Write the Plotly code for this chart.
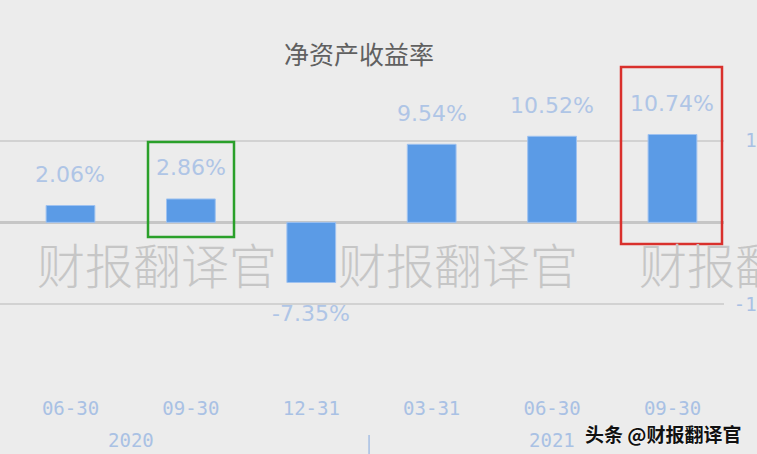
import plotly.graph_objects as go

categories = ["06-30", "09-30", "12-31", "03-31", "06-30", "09-30"]
roe_values = [2.06, 2.86, -7.35, 9.54, 10.52, 10.74]
value_labels = ["2.06%", "2.86%", "-7.35%", "9.54%", "10.52%", "10.74%"]
year_labels = ["2020", "2021"]
year_positions = [0.5, 4.0]
y_tick_values = [-20, -10, 0, 10]
y_tick_text = ["", "-10", "", "\u200710"]
watermark_text = "财报翻译官"
watermark_x = [35, 336, 637]

BG = "#ececec"
LABEL_BLUE = "#a9c1e4"
x_pos = list(range(len(categories)))

fig = go.Figure()
fig.add_trace(go.Bar(
    x=x_pos, y=roe_values, width=0.405,
    marker=dict(color="#5b9be6", line=dict(color="#9fc2f0", width=1)),
    hoverinfo="skip",
))

annotations = []
for xi, v, t in zip(x_pos, roe_values, value_labels):
    annotations.append(dict(
        x=xi, y=v, xref="x", yref="y", text=t, showarrow=False,
        yanchor="middle", yshift=31 if v >= 0 else -31,
        font=dict(family="DejaVu Sans", size=22, color="#afc5e6"),
    ))

for yl, yp in zip(year_labels, year_positions):
    annotations.append(dict(
        x=yp, y=-0.1667, xref="x", yref="paper", text=yl, showarrow=False,
        yanchor="middle", font=dict(family="DejaVu Sans Mono", size=19, color=LABEL_BLUE),
    ))

PLOT_W = 724.0
for wx in watermark_x:
    annotations.append(dict(
        x=wx / PLOT_W, y=0.3796, xref="paper", yref="paper", text=watermark_text,
        showarrow=False, xanchor="left", yanchor="middle",
        font=dict(family="Noto Sans CJK SC", size=48, color="#c6c6c6", weight=300),
    ))

annotations.append(dict(
    x=743 / PLOT_W, y=-0.1466, xref="paper", yref="paper", text="头条 @财报翻译官",
    showarrow=False, xanchor="right", yanchor="middle",
    font=dict(family="Noto Sans CJK SC", size=19, color="#111111", weight="bold",
              shadow="0px 0px 2px white"),
))

shapes = [
    dict(type="rect", xref="paper", yref="paper",
         x0=621 / PLOT_W, x1=722 / PLOT_W, y0=0.438, y1=0.9846,
         line=dict(color="#d9302c", width=2.5)),
    dict(type="rect", xref="paper", yref="paper",
         x0=148 / PLOT_W, x1=234 / PLOT_W, y0=0.46, y1=0.753,
         line=dict(color="#2aa02a", width=2.5)),
    dict(type="line", xref="x", yref="paper", x0=2.48, x1=2.48, y0=-0.151, y1=-0.21,
         line=dict(color="#a6bfe3", width=1.5)),
]

fig.update_layout(
    width=757, height=454,
    margin=dict(l=0, r=757 - PLOT_W, t=62, b=68, autoexpand=False),
    paper_bgcolor=BG, plot_bgcolor=BG,
    showlegend=False,
    title=dict(text="净资产收益率", x=359 / 757, xref="container", xanchor="center",
               y=1 - 55 / 454, yref="container", yanchor="middle",
               font=dict(family="Noto Sans CJK SC", size=25, color="#606060")),
    xaxis=dict(
        range=[-0.5855, 5.428], tickvals=x_pos, ticktext=categories,
        showgrid=False, zeroline=False, showline=False, automargin=False,
        ticks="outside", ticklen=5, tickcolor="rgba(0,0,0,0)",
        tickfont=dict(family="DejaVu Sans Mono", size=19, color=LABEL_BLUE),
    ),
    yaxis=dict(
        range=[-20, 19.6], tickvals=y_tick_values, ticktext=y_tick_text,
        side="right", showgrid=True, gridcolor="#d2d2d2", gridwidth=2,
        zeroline=True, zerolinecolor="#c6c6c6", zerolinewidth=3, automargin=False,
        ticks="outside", ticklen=5, tickcolor="rgba(0,0,0,0)",
        tickfont=dict(family="DejaVu Sans Mono", size=19, color=LABEL_BLUE),
    ),
    annotations=annotations, shapes=shapes,
)

fig.write_html("out.html", config={"displayModeBar": False},
               post_script="document.body.style.margin='0';document.body.style.overflow='hidden';")
